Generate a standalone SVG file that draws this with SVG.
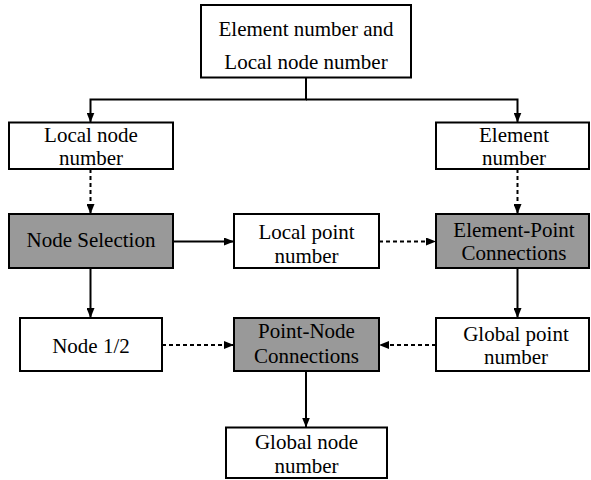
<svg xmlns="http://www.w3.org/2000/svg" width="591" height="480" viewBox="0 0 591 480">
<style>
.box{fill:#fff;stroke:#000;stroke-width:2}
.gray{fill:#999;stroke:#000;stroke-width:2}
.t{font-family:'Liberation Serif','Times New Roman','DejaVu Serif',serif;font-size:21px;fill:#000;text-anchor:middle}
.c{fill:none;stroke:#000;stroke-width:2}
.d{stroke-dasharray:4 3}
</style>
<defs>
<marker id="ah" viewBox="0 0 10 8" refX="10" refY="4" markerWidth="10" markerHeight="8" markerUnits="userSpaceOnUse" orient="auto">
<path d="M0,0 L10,4 L0,8 z" fill="#000"/>
</marker>
</defs>
<g id="connectors">
<path class="c" d="M306,77.5 V99.5 H90.5 V122.5" marker-end="url(#ah)"/>
<path class="c" d="M306,99.5 H517.5 V122.5" marker-end="url(#ah)"/>
<path class="c d" d="M90.5,169 V214" marker-end="url(#ah)"/>
<path class="c d" d="M517.5,169 V214" marker-end="url(#ah)"/>
<path class="c" d="M173,241.5 H234" marker-end="url(#ah)"/>
<path class="c d" d="M379,241.5 H436" marker-end="url(#ah)"/>
<path class="c" d="M90.5,268 V318" marker-end="url(#ah)"/>
<path class="c" d="M517.5,268 V318" marker-end="url(#ah)"/>
<path class="c d" d="M162,345 H234" marker-end="url(#ah)"/>
<path class="c d" d="M436,345 H379" marker-end="url(#ah)"/>
<path class="c" d="M306,371 V427.5" marker-end="url(#ah)"/>
</g>
<g class="t" font-family="Liberation Serif, Times New Roman, DejaVu Serif, serif">
<g id="n-top">
<rect class="box" x="201" y="5" width="210" height="72.5"/>
<text x="306" y="36">Element number and</text>
<text x="306" y="69">Local node number</text>
</g>
<g id="n-localnode">
<rect class="box" x="9" y="122.5" width="164" height="46.5"/>
<text x="91" y="142">Local node</text>
<text x="91" y="164.5">number</text>
</g>
<g id="n-element">
<rect class="box" x="436" y="122.5" width="153" height="46.5"/>
<text x="514" y="142">Element</text>
<text x="514" y="164.5">number</text>
</g>
<g id="n-nodesel">
<rect class="gray" x="9" y="214" width="164" height="54"/>
<text x="91" y="247">Node Selection</text>
</g>
<g id="n-localpoint">
<rect class="box" x="234" y="214" width="145" height="54"/>
<text x="306.5" y="239">Local point</text>
<text x="306.5" y="262.5">number</text>
</g>
<g id="n-elpoint">
<rect class="gray" x="436" y="214" width="153" height="54"/>
<text x="514" y="236.5">Element-Point</text>
<text x="514" y="260">Connections</text>
</g>
<g id="n-node12">
<rect class="box" x="20" y="318" width="142" height="53"/>
<text x="91" y="353">Node 1/2</text>
</g>
<g id="n-pointnode">
<rect class="gray" x="234" y="318" width="145" height="53"/>
<text x="306.5" y="338">Point-Node</text>
<text x="306.5" y="363">Connections</text>
</g>
<g id="n-globalpoint">
<rect class="box" x="436" y="318" width="153" height="53"/>
<text x="516" y="340.5">Global point</text>
<text x="516" y="364">number</text>
</g>
<g id="n-globalnode">
<rect class="box" x="226" y="427.5" width="161" height="50.5"/>
<text x="306.5" y="449">Global node</text>
<text x="306.5" y="472.5">number</text>
</g>
</g>
</svg>
